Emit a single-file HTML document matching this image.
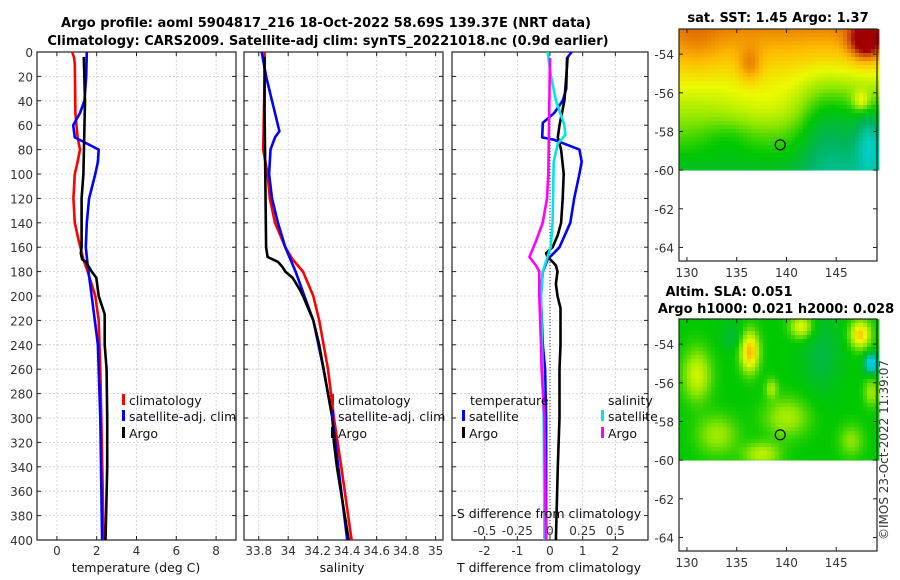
<!DOCTYPE html>
<html><head><meta charset="utf-8">
<style>
body{margin:0;background:#fff;}
svg{display:block;font-family:"DejaVu Sans","Liberation Sans",sans-serif;}
.t{font-size:13px;font-weight:bold;fill:#000;}
.tk{font-size:12px;fill:#333;}
.lg{font-size:12.5px;fill:#111;}
</style></head>
<body>
<svg id="chart" width="900" height="580" viewBox="0 0 900 580">
<text class="t" x="326" y="27" text-anchor="middle">Argo profile: aoml 5904817_216 18-Oct-2022 58.69S 139.37E (NRT data)</text>
<text class="t" x="328" y="45" text-anchor="middle">Climatology: CARS2009. Satellite-adj clim: synTS_20221018.nc (0.9d earlier)</text>
<text class="t" x="778" y="22" text-anchor="middle">sat. SST: 1.45 Argo: 1.37</text>
<text class="t" x="729" y="296" text-anchor="middle">Altim. SLA: 0.051</text>
<text class="t" x="776" y="313" text-anchor="middle">Argo h1000: 0.021 h2000: 0.028</text>
<text class="tk" transform="translate(888,540) rotate(-90)">©IMOS 23-Oct-2022 11:39:07</text>
<g id="plots"></g>
</svg>
<script>
// ---- data (depth in m, values) ----
const depthTicks=[0,20,40,60,80,100,120,140,160,180,200,220,240,260,280,300,320,340,360,380,400];
const tempTicks=[0,2,4,6,8];
const salTicks=[33.8,34,34.2,34.4,34.6,34.8,35];
const salTickLabels=["33.8","34","34.2","34.4","34.6","34.8","35"];
const tdTicks=[-2,-1,0,1,2];
const sdTicks=[-0.5,-0.25,0,0.25,0.5];
const sdTickLabels=["-0.5","-0.25","0","0.25","0.5"];

const tClimDepth=[0,5,10,50,70,80,90,100,120,140,155,170,180,200,220,260,300,400];
const tClimVal=[0.77,0.87,0.9,0.93,1.04,1.16,1.04,0.9,0.83,0.9,1.1,1.33,1.55,1.93,2.1,2.18,2.23,2.35];
const tSatDepth=[0,20,40,50,60,70,75,80,90,100,120,140,160,175,200,240,300,400];
const tSatVal=[1.5,1.47,1.38,1.16,0.82,0.9,1.5,2.1,2.06,1.93,1.62,1.5,1.45,1.55,1.75,2.06,2.18,2.27];
const tArgoDepth=[4,40,100,120,160,165,170,172,180,185,200,210,215,240,260,300,340,380,400];
const tArgoVal=[1.35,1.41,1.33,1.24,1.24,1.2,1.27,1.45,1.75,1.98,2.1,2.3,2.4,2.4,2.5,2.53,2.53,2.47,2.44];

const sClimDepth=[0,20,80,100,120,140,160,170,180,200,220,240,260,280,300,340,400];
const sClimVal=[33.84,33.84,33.83,33.86,33.875,33.91,33.98,34.03,34.1,34.17,34.21,34.24,34.27,34.29,34.31,34.36,34.43];
const sSatDepth=[0,20,40,50,65,70,80,100,120,140,160,180,200,220,260,300,400];
const sSatVal=[33.82,33.85,33.89,33.91,33.94,33.91,33.88,33.87,33.89,33.93,33.98,34.05,34.11,34.17,34.24,34.3,34.4];
const sArgoDepth=[4,50,160,168,172,176,180,185,195,200,220,240,260,280,300,320,340,400];
const sArgoVal=[33.84,33.84,33.85,33.86,33.93,33.96,33.98,34.03,34.08,34.1,34.17,34.21,34.24,34.27,34.3,34.31,34.33,34.41];

const dTSatDepth=[0,5,30,40,50,58,70,72,80,90,100,120,140,160,170,180,200,240,260,300,400];
const dTSatVal=[0.66,0.52,0.5,0.39,0.13,-0.22,-0.24,0.13,0.9,0.97,0.9,0.74,0.62,0.29,-0.07,-0.22,-0.28,-0.22,-0.15,-0.12,-0.12];
const dTArgoDepth=[4,20,40,60,70,80,100,120,140,150,160,165,168,172,175,180,190,200,210,240,260,300,340,400];
const dTArgoVal=[0.54,0.5,0.44,0.29,0.24,0.34,0.42,0.39,0.34,0.24,0.08,-0.12,-0.07,0.08,0.18,0.23,0.18,0.23,0.32,0.32,0.29,0.29,0.24,0.18];
const dSSatDepth=[0,20,40,60,68,75,90,140,160,180,200,300,400];
const dSSatVal=[-0.018,0.008,0.046,0.11,0.117,0.06,0.028,0.02,0.005,-0.056,-0.069,-0.048,-0.043];
const dSArgoDepth=[5,100,120,140,155,168,175,180,200,240,260,300,400];
const dSArgoVal=[0,-0.013,-0.023,-0.056,-0.107,-0.158,-0.107,-0.082,-0.082,-0.069,-0.064,-0.043,-0.031];

const NS="http://www.w3.org/2000/svg";
const root=document.getElementById('plots');
function mk(tag,attrs,parent){const e=document.createElementNS(NS,tag);for(const k in attrs)e.setAttribute(k,attrs[k]);(parent||root).appendChild(e);return e;}
const TOP=52,BOT=540;
const yD=d=>TOP+(d/400)*(BOT-TOP);
function lin(d0,d1,r0,r1){return v=>r0+(v-d0)/(d1-d0)*(r1-r0);}

function frame(x0,x1,xs,ticks,labels,name,showY){
  const g=mk('g',{});
  
  
  depthTicks.forEach(d=>{
    const l=mk('line',{x1:x0,x2:x1,y1:yD(d),y2:yD(d),stroke:'#c8cce8','stroke-width':0.8,'stroke-dasharray':'2,2'},g);
    
    
    mk('line',{x1:x0,x2:x0+4,y1:yD(d),y2:yD(d),stroke:'#222'},g);
    mk('line',{x1:x1-4,x2:x1,y1:yD(d),y2:yD(d),stroke:'#222'},g);
    if(showY){const t=mk('text',{x:x0-4,y:yD(d)+5,'text-anchor':'end',class:'tk'},g);t.textContent=d;
      
      }
  });
  ticks.forEach((v,i)=>{
    const x=xs(v);
    const l=mk('line',{x1:x,x2:x,y1:TOP,y2:BOT,stroke:'#c8cce8','stroke-width':0.8,'stroke-dasharray':'2,2'},g);
    
    
    mk('line',{x1:x,x2:x,y1:BOT-4,y2:BOT,stroke:'#222'},g);
    mk('line',{x1:x,x2:x,y1:TOP,y2:TOP+4,stroke:'#222'},g);
    if(labels){const t=mk('text',{x:x,y:BOT+15,'text-anchor':'middle',class:'tk'},g);t.textContent=labels[i];
      
      }
  });
  mk('rect',{x:x0,y:TOP,width:x1-x0,height:BOT-TOP,fill:'none',stroke:'#222','stroke-width':1.2},g);
}
function line(xs,depths,vals,color,name){
  const p=depths.map((d,i)=>xs(vals[i]).toFixed(1)+','+yD(d).toFixed(1)).join(' ');
  const e=mk('polyline',{points:p,fill:'none',stroke:color,'stroke-width':2.6,'stroke-linejoin':'round'});
  
  
}
function text(x,y,s,cls,name,anchor){const t=mk('text',{x:x,y:y,class:cls,'text-anchor':anchor||'start'});t.textContent=s;
  
  return t;}
function legend(x,y,color,label,name){
  const r=mk('rect',{x:x,y:y-11,width:3,height:11,fill:color});
  
  
  text(x+7,y,label,'lg',name);
}

// Panel 1 temperature
const xT=lin(-1,9,37,236);
frame(37,236,xT,tempTicks,tempTicks.map(String),'temperature-panel',true);
line(xT,tClimDepth,tClimVal,'#ff0000','temp-climatology-line');
line(xT,tSatDepth,tSatVal,'#0000ff','temp-satellite-line');
line(xT,tArgoDepth,tArgoVal,'#000000','temp-argo-line');
text(136,572,'temperature (deg C)','lg','temperature-x-title','middle');
legend(122,405,'#ff0000','climatology','legend-climatology');
legend(122,421,'#0000ff','satellite-adj. clim','legend-satellite-adj');
legend(122,438,'#000000','Argo','legend-argo');

// Panel 2 salinity
const xS=lin(33.7,35.05,244,443);
frame(244,443,xS,salTicks,salTickLabels,'salinity-panel',false);
line(xS,sClimDepth,sClimVal,'#ff0000','sal-climatology-line');
line(xS,sSatDepth,sSatVal,'#0000ff','sal-satellite-line');
line(xS,sArgoDepth,sArgoVal,'#000000','sal-argo-line');
text(342,572,'salinity','lg','salinity-x-title','middle');
legend(331,405,'#ff0000','climatology','legend2-climatology');
legend(331,421,'#0000ff','satellite-adj. clim','legend2-satellite-adj');
legend(331,438,'#000000','Argo','legend2-argo');

// Panel 3 differences
const xDT=lin(-3,3,452,648);
const xDS=lin(-0.75,0.75,452,648);
frame(452,648,xDT,tdTicks,tdTicks.map(String),'difference-panel',false);
const z=mk('line',{x1:xDT(0),x2:xDT(0),y1:TOP,y2:BOT,stroke:'#333','stroke-dasharray':'1,2'});


line(xDT,dTSatDepth,dTSatVal,'#0000ff','dT-satellite-line');
line(xDT,dTArgoDepth,dTArgoVal,'#000000','dT-argo-line');
line(xDS,dSSatDepth,dSSatVal,'#00e5e5','dS-satellite-line');
line(xDS,dSArgoDepth,dSArgoVal,'#ff00ff','dS-argo-line');
text(549,572,'T difference from climatology','lg','dT-x-title','middle');
text(549,518,'S difference from climatology','lg','dS-axis-title','middle');
sdTicks.forEach((v,i)=>text(xDS(v),535,sdTickLabels[i],'tk','dS-tick-label','middle'));
text(470,405,'temperature','lg','legend-temperature-header');
legend(462,421,'#0000ff','satellite','legend-dT-satellite');
legend(462,438,'#000000','Argo','legend-dT-argo');
text(608,405,'salinity','lg','legend-salinity-header');
legend(601,421,'#00e5e5','satellite','legend-dS-satellite');
legend(601,438,'#ff00ff','Argo','legend-dS-argo');

// ---- maps ----
function cmap(v){
  v=Math.max(0,Math.min(1,v));
  const st=[[0,[0,80,255]],[0.25,[0,210,220]],[0.4,[0,180,90]],[0.5,[0,200,0]],[0.6,[140,230,0]],[0.7,[235,250,0]],[0.8,[255,185,0]],[0.9,[220,100,0]],[1,[160,0,0]]];
  for(let i=1;i<st.length;i++){if(v<=st[i][0]){const a=st[i-1],b=st[i];const f=(v-a[0])/(b[0]-a[0]);
    return 'rgb('+a[1].map((c,j)=>Math.round(c+(b[1][j]-c)*f)).join(',')+')';}}
  return 'rgb(160,0,0)';
}
function field(blobs,base){return (lo,la)=>{let v=base(lo,la);blobs.forEach(b=>{const dx=(lo-b[0])/b[2],dy=(la-b[1])/b[3];v+=b[4]*Math.exp(-(dx*dx+dy*dy));});return v;};}
function map(y0,y1,f,name){
  const x0=679,x1=877;
  const xl=lin(129.2,149.1,x0,x1);
  const yl=lin(-52.7,-64.7,y0,y1);
  const g=mk('g',{});
  
  
  const cw=4,ch=4;const yEnd=yl(-60);
  for(let y=y0;y<yEnd;y+=ch){for(let x=x0;x<x1;x+=cw){
    const lo=129.2+(x+2-x0)/(x1-x0)*19.9,la=-52.7-(y+2-y0)/(y1-y0)*12;
    mk('rect',{x:x,y:y,width:cw+0.4,height:Math.min(ch,yEnd-y)+0.4,fill:cmap(f(lo,la))},g);}}
  mk('rect',{x:x0,y:y0,width:x1-x0,height:y1-y0,fill:'none',stroke:'#222','stroke-width':1.2},g);
  [-54,-56,-58,-60,-62,-64].forEach(la=>{mk('line',{x1:x0,x2:x0+4,y1:yl(la),y2:yl(la),stroke:'#222'},g);mk('line',{x1:x1-4,x2:x1,y1:yl(la),y2:yl(la),stroke:'#222'},g);
    const t=mk('text',{x:x0-5,y:yl(la)+5,'text-anchor':'end',class:'tk'},g);t.textContent=la;});
  [130,135,140,145].forEach(lo=>{mk('line',{x1:xl(lo),x2:xl(lo),y1:y1-4,y2:y1,stroke:'#222'},g);mk('line',{x1:xl(lo),x2:xl(lo),y1:y0,y2:y0+4,stroke:'#222'},g);
    const t=mk('text',{x:xl(lo),y:y1+16,'text-anchor':'middle',class:'tk'},g);t.textContent=lo;});
  const c=mk('circle',{cx:xl(139.37),cy:yl(-58.69),r:5,fill:'none',stroke:'#000','stroke-width':1.2},g);
  
  
}
const sst=field([[148,-53.3,1.6,0.9,0.3],[136.3,-54.6,1.2,0.9,0.1],[148.3,-58.5,1.3,1.5,-0.15],[144,-57.5,3,2.5,-0.06],[134,-58.3,2.5,1,-0.04],[147.5,-56.4,0.8,0.5,0.15],[131,-53.5,2.5,1.5,0.04],[138,-56.8,4,1.2,0.04]],
  (lo,la)=>{const d=-52.7-la;const east=1/(1+Math.exp(-(lo-142)*1.2))*(1/(1+Math.exp((la+55.5)*1.5)));return 0.86-0.055*d-0.1*east;});
map(29,261,sst,'sst-map');
const sla=field([[136.3,-54.4,0.9,1.0,0.3],[141.5,-53.1,1.1,0.6,0.2],[147.4,-53.5,1.0,0.7,0.27],[148.5,-55,0.7,0.5,-0.3],[131,-55.6,1.4,1.3,0.17],[140,-57.8,2.2,1.0,0.13],[137.5,-59.7,1.8,0.6,0.15],[143.5,-54.5,2,2,-0.07],[133,-58.7,2,1,0.12],[138.5,-56.3,0.6,0.5,0.12],[146.5,-59,1.2,0.8,0.1],[148.5,-56.5,0.7,0.7,0.12],[134.5,-53.6,1.2,0.7,-0.06]],
  (lo,la)=>0.5);
map(319,551,sla,'sla-map');
</script>
</body></html>
